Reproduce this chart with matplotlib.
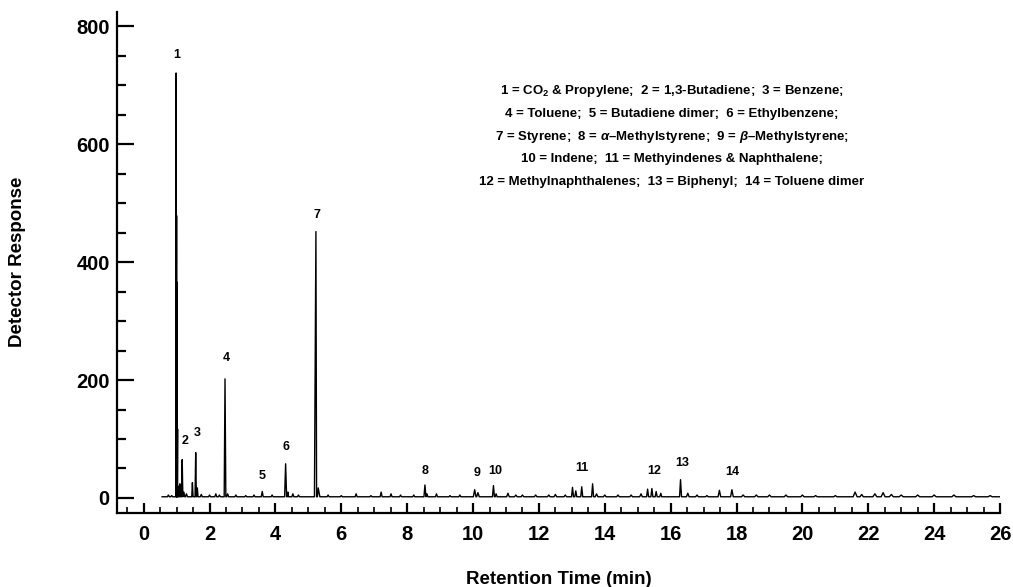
import matplotlib
matplotlib.use('Agg')
import matplotlib.pyplot as plt
from matplotlib.ticker import MultipleLocator
import numpy as np

plt.rcParams['font.family'] = ['Liberation Sans', 'DejaVu Sans']
plt.rcParams['mathtext.fontset'] = 'custom'
plt.rcParams['mathtext.rm'] = 'Liberation Sans:bold'
plt.rcParams['mathtext.it'] = 'Liberation Sans:italic:bold'
plt.rcParams['mathtext.bf'] = 'Liberation Sans:bold'

# chromatogram: retention time (min), height, half width
peak_time = [0.75, 0.85, 0.985, 1.0, 1.01, 1.03, 1.05, 1.10, 1.13, 1.17, 1.22, 1.30,
             1.48, 1.58, 1.63, 1.75, 2.00, 2.19, 2.30, 2.47, 2.55, 2.80, 3.10, 3.35,
             3.60, 3.90, 4.31, 4.38, 4.53, 4.70, 5.23, 5.30, 5.60, 6.00, 6.45, 6.90,
             7.21, 7.51, 7.80, 8.20, 8.54, 8.60, 8.89, 9.30, 9.60, 10.05, 10.15, 10.62,
             10.70, 11.06, 11.30, 11.50, 11.90, 12.30, 12.50, 12.80, 13.02, 13.12, 13.30,
             13.63, 13.75, 14.00, 14.40, 14.80, 15.10, 15.30, 15.43, 15.56, 15.70, 16.30,
             16.52, 16.80, 17.10, 17.48, 17.86, 18.20, 18.60, 19.00, 19.50, 20.00, 20.40,
             21.00, 21.60, 21.80, 22.20, 22.45, 22.70, 23.00, 23.50, 24.00, 24.60, 25.20,
             25.70]
peak_height = [3, 2, 719, 477, 364, 115, 18, 22, 15, 63, 8, 5,
               24, 75, 15, 4, 3, 5, 3, 200, 5, 3, 2, 3,
               9, 3, 56, 8, 5, 3, 450, 15, 3, 2, 5, 2,
               8, 5, 3, 3, 20, 5, 5, 2, 3, 12, 7, 19,
               5, 6, 3, 3, 3, 3, 4, 3, 16, 10, 17,
               22, 5, 3, 3, 3, 5, 13, 14, 9, 6, 29,
               6, 3, 2, 11, 12, 3, 3, 3, 3, 3, 2,
               2, 8, 4, 5, 7, 4, 3, 3, 3, 3, 2,
               2]
peak_width = [0.03, 0.03, 0.008, 0.008, 0.008, 0.01, 0.02, 0.02, 0.02, 0.02, 0.03, 0.03,
              0.02, 0.02, 0.02, 0.03, 0.03, 0.03, 0.03, 0.025, 0.03, 0.03, 0.03, 0.03,
              0.03, 0.03, 0.03, 0.02, 0.03, 0.03, 0.045, 0.05, 0.03, 0.03, 0.03, 0.03,
              0.03, 0.03, 0.03, 0.03, 0.03, 0.03, 0.03, 0.03, 0.03, 0.04, 0.04, 0.03,
              0.03, 0.04, 0.04, 0.04, 0.04, 0.04, 0.04, 0.04, 0.03, 0.03, 0.03,
              0.03, 0.04, 0.04, 0.04, 0.04, 0.04, 0.03, 0.03, 0.03, 0.03, 0.03,
              0.04, 0.04, 0.04, 0.04, 0.04, 0.05, 0.05, 0.05, 0.05, 0.05, 0.05,
              0.05, 0.06, 0.05, 0.06, 0.06, 0.06, 0.06, 0.06, 0.06, 0.06, 0.06,
              0.06]
baseline = 2
run_start, run_end = 0.56, 26.0

# peak number labels: (time, response)
label_text = ['1', '2', '3', '4', '5', '6', '7', '8', '9', '10', '11', '12', '13', '14']
label_x = [1.0, 1.25, 1.62, 2.5, 3.61, 4.31, 5.26, 8.54, 10.13, 10.68, 13.31, 15.5, 16.34, 17.86]
label_y = [752, 97, 110, 238, 37, 87, 480, 46, 42, 46, 50, 46, 60, 44]

legend_lines = [
    '1 = CO$_\\mathrm{2}$ & Propylene;  2 = 1,3-Butadiene;  3 = Benzene;',
    '4 = Toluene;  5 = Butadiene dimer;  6 = Ethylbenzene;',
    '7 = Styrene;  8 = $\\alpha$\u2013Methylstyrene;  9 = $\\beta$\u2013Methylstyrene;',
    '10 = Indene;  11 = Methyindenes & Naphthalene;',
    '12 = Methylnaphthalenes;  13 = Biphenyl;  14 = Toluene dimer',
]

# build the trace as a polyline through the peak apexes
xs = [run_start]
ys = [baseline]
for t, h, w in zip(peak_time, peak_height, peak_width):
    xs += [t - w, t, t + w]
    ys += [baseline, baseline + h, baseline]
xs.append(run_end)
ys.append(baseline)
order = np.argsort(xs, kind='stable')
xs = np.array(xs)[order]
ys = np.array(ys)[order]

fig = plt.figure(figsize=(10.13, 5.87), dpi=100)
ax = fig.add_axes([0.1158, 0.1266, 0.8714, 0.8535])
ax.plot(xs, ys, color='black', lw=1.0)

for s, x, y in zip(label_text, label_x, label_y):
    ax.text(x, y, s, ha='center', va='center', fontsize=9, fontweight='bold')

for i, line in enumerate(legend_lines):
    fig.text(672 / 1013, 1 - (91 + i * 22.8) / 587, line, ha='center', va='center',
             fontsize=9.5, fontweight='bold')

ax.set_xlim(-0.8, 26)
ax.set_ylim(-25, 825)
ax.spines['top'].set_visible(False)
ax.spines['right'].set_visible(False)
ax.spines['left'].set_linewidth(1.6)
ax.spines['bottom'].set_linewidth(1.6)

ax.xaxis.set_major_locator(MultipleLocator(2))
ax.xaxis.set_minor_locator(MultipleLocator(0.5))
ax.yaxis.set_major_locator(MultipleLocator(200))
ax.yaxis.set_minor_locator(MultipleLocator(50))
ax.tick_params(axis='x', which='major', direction='in', length=7, width=1.6, pad=9,
               labelsize=14.5)
ax.tick_params(axis='x', which='minor', direction='in', length=4, width=1.2)
ax.tick_params(axis='y', which='major', direction='in', length=12.5, width=1.6, pad=5.5,
               labelsize=14.5)
ax.tick_params(axis='y', which='minor', direction='in', length=6.5, width=1.6)
for lab in ax.get_xticklabels() + ax.get_yticklabels():
    lab.set_fontweight('bold')

ax.set_xlabel('Retention Time (min)', fontsize=13.5, fontweight='bold', labelpad=19)
ax.set_ylabel('Detector Response', fontsize=13.5, fontweight='bold', labelpad=36)

fig.savefig('out.png', dpi=100)
